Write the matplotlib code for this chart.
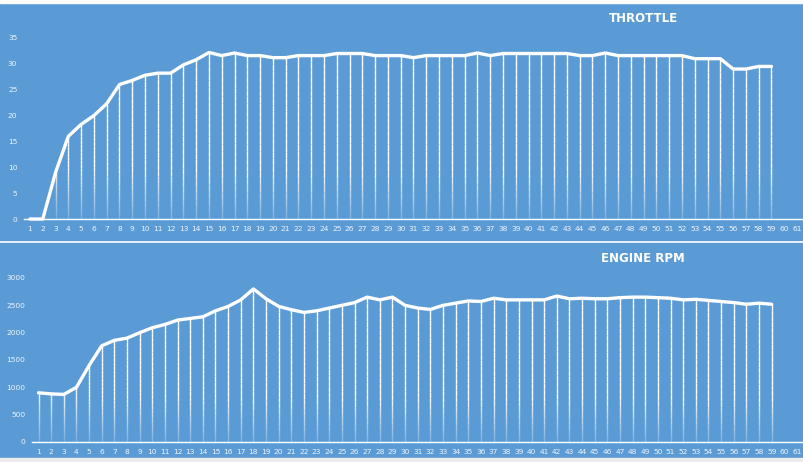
import matplotlib
matplotlib.use("Agg")
import matplotlib.pyplot as plt
from matplotlib.collections import LineCollection
import numpy as np

categories = list(range(1, 62))
samples = list(range(1, 60))
throttle = [0, 0, 9, 16, 18.3, 20, 22.3, 26, 26.8, 27.8, 28.2, 28.2, 29.8, 30.8, 32.2,
            31.6, 32.1, 31.6, 31.6, 31.2, 31.2, 31.6, 31.6, 31.6, 32, 32, 32, 31.6, 31.6,
            31.6, 31.2, 31.6, 31.6, 31.6, 31.6, 32.1, 31.6, 32, 32, 32, 32, 32, 32, 31.6,
            31.6, 32.1, 31.6, 31.6, 31.6, 31.6, 31.6, 31.6, 31, 31, 31, 29, 29, 29.5, 29.5]
rpm = [900, 880, 870, 1000, 1400, 1760, 1860, 1900, 2000, 2090, 2150, 2230, 2260, 2290,
       2400, 2480, 2600, 2800, 2620, 2480, 2420, 2370, 2400, 2450, 2500, 2550, 2650, 2600,
       2650, 2500, 2450, 2425, 2500, 2540, 2580, 2570, 2630, 2600, 2600, 2600, 2600, 2670,
       2620, 2630, 2620, 2620, 2640, 2650, 2650, 2640, 2630, 2600, 2610, 2590, 2570, 2550,
       2520, 2540, 2520]
throttle_ticks = [0, 5, 10, 15, 20, 25, 30, 35]
rpm_ticks = [0, 500, 1000, 1500, 2000, 2500, 3000]

BG = "#5b9bd5"
LBL = "#eef4fb"
W, H = 804, 462

fig = plt.figure(figsize=(W / 100, H / 100), dpi=100)
fig.patch.set_facecolor(BG)


def make_axes(x0, x1, y0px, ytoppx):
    return fig.add_axes([x0 / W, (H - y0px) / H, (x1 - x0) / W, (y0px - ytoppx) / H])


def draw(ax, xs, ys, ymax, ticks, ypad):
    ax.set_facecolor("none")
    ax.set_xlim(0.5, 61.5)
    ax.set_ylim(0, ymax)
    for s in ["top", "right", "left"]:
        ax.spines[s].set_visible(False)
    ax.spines["bottom"].set_color("white")
    ax.spines["bottom"].set_linewidth(1.0)
    ax.set_xticks(categories)
    ax.set_xticklabels([str(c) for c in categories])
    ax.set_yticks(ticks)
    ax.tick_params(axis="both", length=0, colors=LBL, labelsize=5.4)
    ax.tick_params(axis="x", pad=5.3)
    ax.tick_params(axis="y", pad=ypad)
    # drop lines with fade toward the axis
    segs, cols = [], []
    n = 24
    for x, y in zip(xs, ys):
        edges = np.linspace(0, y, n + 1)
        for k in range(n):
            segs.append([(x, edges[k]), (x, edges[k + 1])])
            frac = edges[k + 1] / ymax
            a = min(1.0, 0.15 + frac / 0.35)
            cols.append((1, 1, 1, a))
    lc = LineCollection(segs, colors=cols, linewidths=1.0, capstyle="butt")
    ax.add_collection(lc)
    ax.plot(xs, ys, color="white", lw=2.4, solid_joinstyle="round",
            solid_capstyle="round", clip_on=False, zorder=3)


ax1 = make_axes(23.6, 803.4, 219, 38)
draw(ax1, samples, throttle, 35, throttle_ticks, 4.5)

ax2 = make_axes(32.2, 803.3, 442, 278)
draw(ax2, samples, rpm, 3000, rpm_ticks, 5.0)

fig.text(643 / W, 1 - 18.5 / H, "THROTTLE", color="white", fontsize=8.5,
         fontweight="bold", ha="center", va="center")
fig.text(643 / W, 1 - 259 / H, "ENGINE RPM", color="white", fontsize=8.5,
         fontweight="bold", ha="center", va="center")

# separator between panels and borders
fig.add_artist(plt.Line2D([0, 1], [1 - 241.5 / H, 1 - 241.5 / H], color="white",
                          lw=1.2, transform=fig.transFigure))
fig.add_artist(plt.Rectangle((0, 1 - 3 / H), 1, 3 / H, color="white",
                             transform=fig.transFigure))
fig.add_artist(plt.Rectangle((0, 0), 1, 4 / H, color="#ececec",
                             transform=fig.transFigure))

fig.savefig("out.png", dpi=100, facecolor=BG)
